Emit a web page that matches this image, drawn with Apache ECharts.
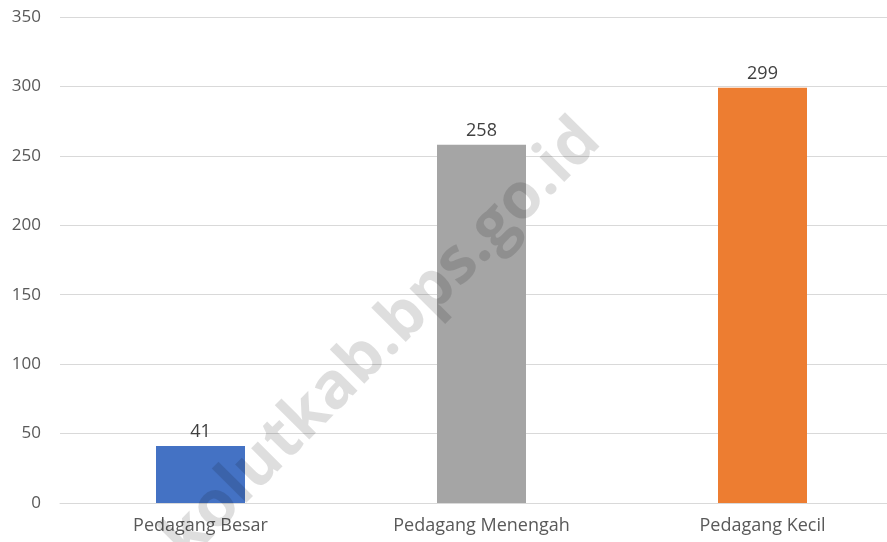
<!DOCTYPE html>
<html>
<head>
<meta charset="utf-8">
<script src="https://cdn.jsdelivr.net/npm/echarts@6/dist/echarts.min.js"></script>
<style>
  html, body { margin: 0; padding: 0; background: #fff; }
  #chart { width: 887px; height: 542px; }
</style>
</head>
<body>
<div id="chart"></div>
<script>
var categories = ['Pedagang Besar', 'Pedagang Menengah', 'Pedagang Kecil'];
var values = [41, 258, 299];
var barColors = ['#4472C4', '#A5A5A5', '#ED7D31'];

var chart = echarts.init(document.getElementById('chart'));
chart.setOption({
  animation: false,
  grid: { left: 60, right: -16, top: 17, bottom: 39, outerBoundsMode: 'none' },
  xAxis: {
    type: 'category',
    data: categories,
    axisLine: { lineStyle: { color: '#d9d9d9' } },
    axisTick: { show: false },
    axisLabel: { color: '#595959', fontSize: 18, fontFamily: 'Open Sans', margin: 14 }
  },
  yAxis: {
    type: 'value',
    min: 0, max: 350, interval: 50,
    axisLine: { show: false },
    axisTick: { show: false },
    axisLabel: { color: '#595959', fontSize: 17, fontFamily: 'Open Sans', margin: 19 },
    splitLine: { lineStyle: { color: '#d9d9d9' } }
  },
  series: [{
    type: 'bar',
    barWidth: 89,
    data: values.map(function (v, i) {
      return { value: v, itemStyle: { color: barColors[i] } };
    }),
    label: {
      show: true, position: 'top', distance: 5,
      color: '#404040', fontSize: 18, fontFamily: 'Open Sans'
    }
  }],
  graphic: [{
    type: 'text',
    x: 382, y: 340,
    rotation: 0.79,
    z: 100,
    style: {
      text: 'kolutkab.bps.go.id',
      font: 'bold 64px "Open Sans"',
      fill: 'rgba(0,0,0,0.13)',
      align: 'center',
      verticalAlign: 'middle'
    }
  }]
});
</script>
</body>
</html>
